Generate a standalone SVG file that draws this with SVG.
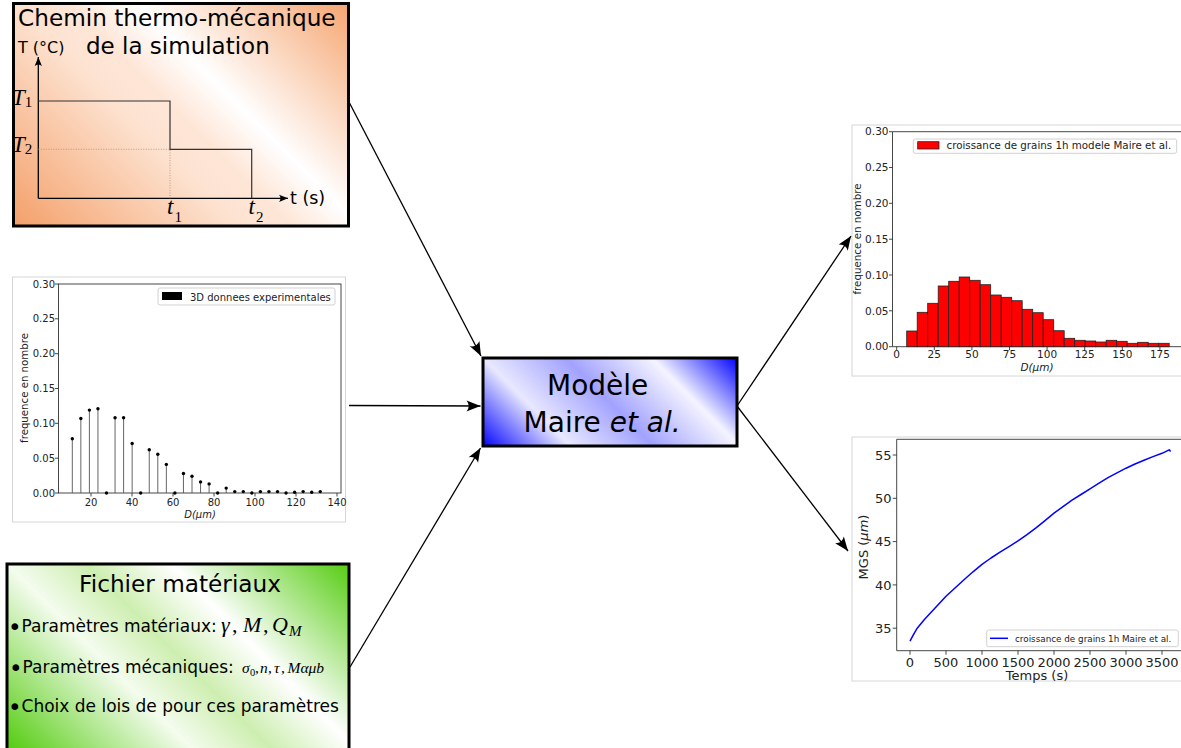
<svg xmlns="http://www.w3.org/2000/svg" width="1181" height="748" viewBox="0 0 1181 748">
<defs>
<linearGradient id="gOrange" gradientUnits="userSpaceOnUse" x1="41.6" y1="253.9" x2="320.4" y2="-24.9">
<stop offset="0" stop-color="#f4a06a"/>
<stop offset="0.4" stop-color="#fde2d0"/>
<stop offset="0.5" stop-color="#fee6d7"/>
<stop offset="0.62" stop-color="#ffffff"/>
<stop offset="1" stop-color="#f6a570"/>
</linearGradient>
<linearGradient id="gGreen" gradientUnits="userSpaceOnUse" x1="46.8" y1="787.7" x2="310.2" y2="524.3">
<stop offset="0" stop-color="#55cc11"/>
<stop offset="0.35" stop-color="#f4fcee"/>
<stop offset="0.5" stop-color="#cdeeb0"/>
<stop offset="0.66" stop-color="#ffffff"/>
<stop offset="1" stop-color="#55cc11"/>
</linearGradient>
<linearGradient id="gBlue" gradientUnits="userSpaceOnUse" x1="523.2" y1="488.3" x2="695.8" y2="315.7">
<stop offset="0" stop-color="#0000ff"/>
<stop offset="0.26" stop-color="#e8e8ff"/>
<stop offset="0.5" stop-color="#a2a2ff"/>
<stop offset="0.75" stop-color="#f4f4ff"/>
<stop offset="1" stop-color="#0000ff"/>
</linearGradient>
<marker id="arr" viewBox="-15 -7 16 14" refX="0" refY="0" markerWidth="16" markerHeight="14" markerUnits="userSpaceOnUse" orient="auto">
<path d="M0,0 L-14,-5.5 Q-9.5,0 -14,5.5 Z" fill="#000"/>
</marker>
<marker id="arrS" viewBox="-10 -5 11 10" refX="0" refY="0" markerWidth="11" markerHeight="10" markerUnits="userSpaceOnUse" orient="auto">
<path d="M0,0 L-9,-3.6 Q-6,0 -9,3.6 Z" fill="#000"/>
</marker>
<clipPath id="clip4"><rect x="851" y="436" width="331" height="247"/></clipPath>
<style>
.box{stroke:#000;stroke-width:3}
.t{font-family:"DejaVu Sans","Liberation Sans",sans-serif;fill:#000}
.m{font-family:"Liberation Serif","DejaVu Serif",serif;font-style:italic;fill:#000}
.frame{fill:#fff;stroke:#d6d6d6;stroke-width:1}
.spine{fill:none;stroke:#333;stroke-width:0.9}
.tick{stroke:#333;stroke-width:0.9}
.tl{font-family:"DejaVu Sans",sans-serif;fill:#222}
.leg{fill:#fff;stroke:#cccccc;stroke-width:0.9}
.conn{stroke:#000;stroke-width:1.3;fill:none;marker-end:url(#arr)}
</style>
</defs>

<rect width="1181" height="748" fill="#fff"/>

<!-- Node 1: thermo-mechanical path -->
<g id="chemin">
<rect class="box" x="13.5" y="3.5" width="335" height="222.5" fill="url(#gOrange)"/>
<text class="t" x="18" y="26" font-size="23.2">Chemin thermo-mécanique</text>
<text class="t" x="86" y="54" font-size="23">de la simulation</text>
<text class="t" x="18" y="53" font-size="16">T (°C)</text>
<line x1="38.3" y1="198.3" x2="38.3" y2="57" stroke="#000" stroke-width="1.3" marker-end="url(#arrS)"/>
<line x1="38.3" y1="198.3" x2="288" y2="198.3" stroke="#000" stroke-width="1.3" marker-end="url(#arrS)"/>
<path d="M38.3,101 H170 V149.3 H251.7 V198.3" fill="none" stroke="#333" stroke-width="1.2"/>
<path d="M38.3,149.3 H170 V198.3" fill="none" stroke="#a88a78" stroke-width="0.8" stroke-dasharray="1,1.5"/>
<text class="t" x="290" y="204" font-size="17.5">t (s)</text>
<text class="m" x="12" y="104.5" font-size="23">T<tspan font-size="15" font-style="normal" dy="2.5">1</tspan></text>
<text class="m" x="12" y="151.5" font-size="23">T<tspan font-size="15" font-style="normal" dy="2.5">2</tspan></text>
<text class="m" x="167" y="213.5" font-size="23">t<tspan font-size="15" font-style="normal" dx="1" dy="8">1</tspan></text>
<text class="m" x="248.5" y="213.5" font-size="23">t<tspan font-size="15" font-style="normal" dx="1" dy="8">2</tspan></text>
</g>

<!-- Node 2: experimental histogram -->
<g id="exp-data">
<rect class="frame" x="12.5" y="277" width="333" height="245"/>
<rect class="spine" x="58.5" y="284" width="282.5" height="209"/>
<path class="tick" d="M58.5,284h-3.5M58.5,318.8h-3.5M58.5,353.7h-3.5M58.5,388.5h-3.5M58.5,423.3h-3.5M58.5,458.2h-3.5M58.5,493h-3.5M91,493v3.5M132,493v3.5M173,493v3.5M214,493v3.5M255,493v3.5M296,493v3.5M337,493v3.5"/>
<g class="tl" text-anchor="end" font-size="10">
<text x="55" y="287.5">0.30</text><text x="55" y="322.3">0.25</text><text x="55" y="357.2">0.20</text><text x="55" y="392">0.15</text><text x="55" y="426.8">0.10</text><text x="55" y="461.7">0.05</text><text x="55" y="496.5">0.00</text>
</g>
<g class="tl" text-anchor="middle" font-size="10">
<text x="91" y="505.5">20</text><text x="132" y="505.5">40</text><text x="173" y="505.5">60</text><text x="214" y="505.5">80</text><text x="255" y="505.5">100</text><text x="296" y="505.5">120</text><text x="337" y="505.5">140</text>
</g>
<text class="tl" x="200" y="517.5" text-anchor="middle" font-style="italic" font-size="10">D(μm)</text>
<text class="tl" transform="translate(27.5,388) rotate(-90)" text-anchor="middle" font-size="10.2">frequence en nombre</text>
<path d="M72.3,493V438.7M80.85,493V418.5M89.4,493V410.1M97.95,493V408.7M115.05,493V417.8M123.6,493V417.8M132.15,493V443.5M149.25,493V449.8M157.8,493V454.3M166.35,493V464.4M183.45,493V473.5M192,493V476.3M200.55,493V481.9M209.1,493V483.9M226.2,493V488.1M234.75,493V491.6M243.3,493V491.6" stroke="#555" stroke-width="0.9" fill="none"/>
<g fill="#000">
<circle cx="72.3" cy="438.7" r="1.7"/><circle cx="80.85" cy="418.5" r="1.7"/><circle cx="89.4" cy="410.1" r="1.7"/><circle cx="97.95" cy="408.7" r="1.7"/><circle cx="106.5" cy="493" r="1.7"/><circle cx="115.05" cy="417.8" r="1.7"/><circle cx="123.6" cy="417.8" r="1.7"/><circle cx="132.15" cy="443.5" r="1.7"/><circle cx="140.7" cy="493" r="1.7"/><circle cx="149.25" cy="449.8" r="1.7"/><circle cx="157.8" cy="454.3" r="1.7"/><circle cx="166.35" cy="464.4" r="1.7"/><circle cx="174.9" cy="493" r="1.7"/><circle cx="183.45" cy="473.5" r="1.7"/><circle cx="192" cy="476.3" r="1.7"/><circle cx="200.55" cy="481.9" r="1.7"/><circle cx="209.1" cy="483.9" r="1.7"/><circle cx="217.65" cy="493" r="1.7"/><circle cx="226.2" cy="488.1" r="1.7"/><circle cx="234.75" cy="491.6" r="1.7"/><circle cx="243.3" cy="491.6" r="1.7"/><circle cx="251.85" cy="493" r="1.7"/><circle cx="260.4" cy="491.6" r="1.7"/><circle cx="268.95" cy="491.6" r="1.7"/><circle cx="277.5" cy="491.6" r="1.7"/><circle cx="286.05" cy="493" r="1.7"/><circle cx="294.6" cy="492.3" r="1.7"/><circle cx="303.15" cy="491.6" r="1.7"/><circle cx="311.7" cy="492.3" r="1.7"/><circle cx="320.25" cy="491.6" r="1.7"/>
</g>
<rect class="leg" x="158" y="288" width="177" height="17" rx="2"/>
<rect x="162" y="292" width="20" height="8" fill="#000"/>
<text class="tl" x="190" y="300.5" font-size="10">3D donnees experimentales</text>
</g>

<!-- Node 3: material file -->
<g id="materiaux">
<rect class="box" x="7" y="564" width="342" height="230" fill="url(#gGreen)"/>
<text class="t" x="180" y="591.5" font-size="23.2" text-anchor="middle">Fichier matériaux</text>
<text class="t" x="8" y="632" font-size="17"><tspan font-size="23" dy="2.5">•</tspan><tspan dy="-2.5">Paramètres matériaux:</tspan></text>
<text class="m" y="632" font-size="22"><tspan x="221">γ</tspan><tspan font-style="normal" x="232">,</tspan><tspan x="243">M</tspan><tspan font-style="normal" x="263">,</tspan><tspan x="272">Q</tspan><tspan font-size="15" x="289" dy="4">M</tspan></text>
<text class="t" x="9" y="673" font-size="17"><tspan font-size="23" dy="2.5">•</tspan><tspan dy="-2.5">Paramètres mécaniques:</tspan></text>
<text class="m" y="673" font-size="15.5"><tspan x="242">σ</tspan><tspan font-size="10.5" font-style="normal" x="250" dy="2.5">0</tspan><tspan font-style="normal" x="255" dy="-2.5">,</tspan><tspan x="260">n</tspan><tspan font-style="normal" x="268">,</tspan><tspan x="274">τ</tspan><tspan font-style="normal" x="281">,</tspan><tspan x="287.5">Mαμb</tspan></text>
<text class="t" x="8" y="712" font-size="17"><tspan font-size="23" dy="2.5">•</tspan><tspan dy="-2.5">Choix de lois de pour ces paramètres</tspan></text>
</g>

<!-- Node 4: model -->
<g id="modele">
<rect class="box" x="483" y="358" width="254" height="88" fill="url(#gBlue)"/>
<text class="t" x="547" y="395.3" font-size="28">Modèle</text>
<text class="t" x="523.6" y="432" font-size="28">Maire <tspan font-style="italic">et al.</tspan></text>
</g>

<!-- Node 5: simulated histogram -->
<g id="sim-hist">
<rect class="frame" x="852" y="125" width="335" height="251"/>
<path class="spine" d="M892.5,131.7V346.7H1182M892.5,131.7H1182"/>
<path class="tick" d="M892.5,131.7h-3.5M892.5,167.5h-3.5M892.5,203.3h-3.5M892.5,239.2h-3.5M892.5,275h-3.5M892.5,310.8h-3.5M892.5,346.7h-3.5M896.7,346.7v3.5M934.3,346.7v3.5M971.9,346.7v3.5M1009.5,346.7v3.5M1047.1,346.7v3.5M1084.7,346.7v3.5M1122.3,346.7v3.5M1159.9,346.7v3.5"/>
<g class="tl" text-anchor="end" font-size="10.5">
<text x="888.5" y="135.4">0.30</text><text x="888.5" y="171.2">0.25</text><text x="888.5" y="207">0.20</text><text x="888.5" y="242.9">0.15</text><text x="888.5" y="278.7">0.10</text><text x="888.5" y="314.5">0.05</text><text x="888.5" y="350.4">0.00</text>
</g>
<g class="tl" text-anchor="middle" font-size="10.5">
<text x="896.7" y="358">0</text><text x="934.3" y="358">25</text><text x="971.9" y="358">50</text><text x="1009.5" y="358">75</text><text x="1047.1" y="358">100</text><text x="1084.7" y="358">125</text><text x="1122.3" y="358">150</text><text x="1159.9" y="358">175</text>
</g>
<text class="tl" x="1037" y="370.5" text-anchor="middle" font-style="italic" font-size="10.5">D(μm)</text>
<text class="tl" transform="translate(861,239) rotate(-90)" text-anchor="middle" font-size="10.3">frequence en nombre</text>
<g fill="#ff0000" stroke="#222" stroke-width="0.8">
<rect x="906.7" y="331" width="10.5" height="15.7"/>
<rect x="917.2" y="312.3" width="10.5" height="34.4"/>
<rect x="927.7" y="303.3" width="10.5" height="43.4"/>
<rect x="938.2" y="286" width="10.5" height="60.7"/>
<rect x="948.7" y="281.3" width="10.5" height="65.4"/>
<rect x="959.2" y="277" width="10.5" height="69.7"/>
<rect x="969.7" y="280.3" width="10.5" height="66.4"/>
<rect x="980.2" y="284.7" width="10.5" height="62"/>
<rect x="990.7" y="295" width="10.5" height="51.7"/>
<rect x="1001.2" y="297.3" width="10.5" height="49.4"/>
<rect x="1011.7" y="300.7" width="10.5" height="46"/>
<rect x="1022.2" y="309.3" width="10.5" height="37.4"/>
<rect x="1032.7" y="312.7" width="10.5" height="34"/>
<rect x="1043.2" y="319.7" width="10.5" height="27"/>
<rect x="1053.7" y="330.7" width="10.5" height="16"/>
<rect x="1064.2" y="338.3" width="10.5" height="8.4"/>
<rect x="1074.7" y="340.3" width="10.5" height="6.4"/>
<rect x="1085.2" y="341" width="10.5" height="5.7"/>
<rect x="1095.7" y="342" width="10.5" height="4.7"/>
<rect x="1106.2" y="340.3" width="10.5" height="6.4"/>
<rect x="1116.7" y="341.3" width="10.5" height="5.4"/>
<rect x="1127.2" y="343.3" width="10.5" height="3.4"/>
<rect x="1137.7" y="342.3" width="10.5" height="4.4"/>
<rect x="1148.2" y="343.3" width="10.5" height="3.4"/>
<rect x="1158.7" y="343.3" width="10.5" height="3.4"/>
</g>
<rect class="leg" x="913.3" y="139" width="263.4" height="14.3" rx="2"/>
<rect x="917.7" y="141.7" width="21.3" height="7.3" fill="#ff0000" stroke="#222" stroke-width="0.8"/>
<text class="tl" x="946.5" y="149.3" font-size="10.3">croissance de grains 1h modele Maire et al.</text>
</g>

<!-- Node 6: MGS evolution -->
<g id="mgs" clip-path="url(#clip4)">
<rect class="frame" x="852" y="437" width="335" height="244"/>
<path class="spine" d="M896.7,439.3V650.7H1182M896.7,439.3H1182"/>
<path class="tick" d="M896.7,455h-4M896.7,498.3h-4M896.7,541.6h-4M896.7,584.9h-4M896.7,628.2h-4M910,650.7v4M946,650.7v4M982,650.7v4M1018,650.7v4M1054,650.7v4M1090,650.7v4M1126,650.7v4M1162,650.7v4"/>
<g class="tl" text-anchor="end" font-size="13">
<text x="891.5" y="459.7">55</text><text x="891.5" y="503">50</text><text x="891.5" y="546.3">45</text><text x="891.5" y="589.6">40</text><text x="891.5" y="632.9">35</text>
</g>
<g class="tl" text-anchor="middle" font-size="13">
<text x="910" y="666.5">0</text><text x="946" y="666.5">500</text><text x="982" y="666.5">1000</text><text x="1018" y="666.5">1500</text><text x="1054" y="666.5">2000</text><text x="1090" y="666.5">2500</text><text x="1126" y="666.5">3000</text><text x="1162" y="666.5">3500</text>
</g>
<text class="tl" x="1037" y="680" text-anchor="middle" font-size="13">Temps (s)</text>
<text class="tl" transform="translate(867.5,547) rotate(-90)" text-anchor="middle" font-size="13">MGS (<tspan font-style="italic">μm</tspan>)</text>
<polyline fill="none" stroke="#0000ff" stroke-width="1.5" stroke-linejoin="round" points="910,641.2 913.6,634.3 917.2,628.2 924.4,619.6 931.6,611.8 938.8,604 946,596.3 955,588 964,579.8 973,571.8 982,564.3 991,558 1000,552.1 1009,546.6 1018,540.9 1027,534.6 1036,527.9 1045,520.6 1054,513.2 1063,506.6 1072,500.2 1081,494.5 1090,488.9 1099,483.2 1108,477.7 1117,472.8 1126,468.2 1135,464 1144,460.2 1153,456.6 1162,453.3 1169.2,449.8 1170.6,451.5"/>
<rect class="leg" x="986.7" y="630" width="191.6" height="16.7" rx="2"/>
<line x1="990" y1="638.3" x2="1008" y2="638.3" stroke="#0000ff" stroke-width="1.5"/>
<text class="tl" x="1015" y="641.5" font-size="8.8">croissance de grains 1h Maire et al.</text>
</g>

<!-- Connectors -->
<g id="connectors">
<line class="conn" x1="349" y1="102" x2="481" y2="356"/>
<line class="conn" x1="349" y1="405.5" x2="480.5" y2="406"/>
<line class="conn" x1="350" y1="667" x2="480.5" y2="448"/>
<line class="conn" x1="737" y1="406" x2="851" y2="236"/>
<line class="conn" x1="737" y1="406" x2="848" y2="551"/>
</g>
</svg>
